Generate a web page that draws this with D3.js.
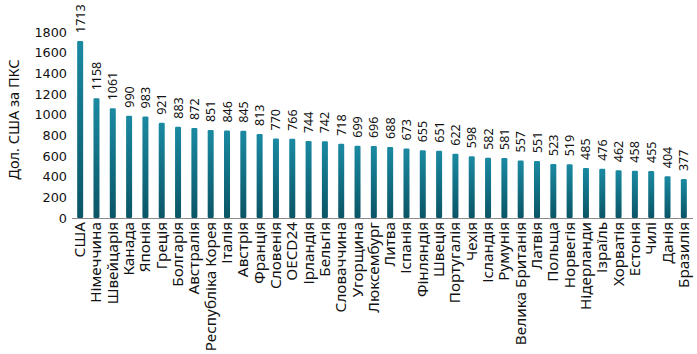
<!DOCTYPE html>
<html>
<head>
<meta charset="utf-8">
<script src="https://cdn.jsdelivr.net/npm/d3@7"></script>
<style>
body { margin: 0; background: #fff; }
text { fill: #111; }
</style>
</head>
<body>
<div id="chart"></div>
<script>
var categories = ["США", "Німеччина", "Швейцарія", "Канада", "Японія", "Греція", "Болгарія", "Австралія",
	"Республіка Корея", "Італія", "Австрія", "Франція", "Словенія", "OECD24", "Ірландія", "Бельгія",
	"Словаччина", "Угорщина", "Люксембург", "Литва", "Іспанія", "Фінляндія", "Швеція", "Португалія",
	"Чехія", "Ісландія", "Румунія", "Велика Британія", "Латвія", "Польща", "Норвегія", "Нідерланди",
	"Ізраїль", "Хорватія", "Естонія", "Чилі", "Данія", "Бразилія"];
var values = [1713, 1158, 1061, 990, 983, 921, 883, 872, 851, 846, 845, 813, 770, 766, 744, 742,
	718, 699, 696, 688, 673, 655, 651, 622, 598, 582, 581, 557, 551, 523, 519, 485,
	476, 462, 458, 455, 404, 377];
var yTicks = [0, 200, 400, 600, 800, 1000, 1200, 1400, 1600, 1800];
var yTitle = "Дол. США за ПКС";

var w = 697, h = 354;
var data = categories.map(function(c, i) { return {name: c, value: values[i]}; });

var svg = d3.select("#chart").append("svg")
	.attr("width", w)
	.attr("height", h);

var defs = svg.append("defs");
var grad = defs.append("linearGradient")
	.attr("id", "barGrad")
	.attr("x1", 0).attr("y1", 0).attr("x2", 0).attr("y2", 1);
grad.append("stop").attr("offset", "0%").attr("stop-color", "#1a8aa2");
grad.append("stop").attr("offset", "100%").attr("stop-color", "#0a5566");

var x = d3.scaleBand().domain(categories).range([72, 692]).padding(0);
var y = d3.scaleLinear().domain([0, 1800]).range([218, 32]);
var barW = 6;

// bars
svg.selectAll(".bar")
	.data(data).enter()
	.append("rect")
	.attr("class", "bar")
	.attr("x", function(d) { return x(d.name) + x.bandwidth() / 2 - barW / 2; })
	.attr("y", function(d) { return y(d.value); })
	.attr("width", barW)
	.attr("height", function(d) { return y(0) - y(d.value); })
	.attr("rx", 1.2)
	.attr("fill", "url(#barGrad)");

// baseline
svg.append("line")
	.attr("x1", 72).attr("x2", 693)
	.attr("y1", y(0) + 0.5).attr("y2", y(0) + 0.5)
	.attr("stroke", "#8a8a8a")
	.attr("stroke-width", 1);

// y axis labels (no line, no ticks)
var yAxis = d3.axisLeft(y).tickValues(yTicks).tickSize(0).tickPadding(0).tickFormat(d3.format("d"));
var gy = svg.append("g")
	.attr("transform", "translate(67,0)")
	.call(yAxis);
gy.select(".domain").remove();
gy.selectAll("text")
	.style("font-family", "'DejaVu Sans', sans-serif")
	.style("font-size", "12.8px")
	.style("fill", "#111");

// value labels
svg.selectAll(".val")
	.data(data).enter()
	.append("text")
	.attr("class", "val")
	.attr("transform", function(d) {
		return "translate(" + (x(d.name) + x.bandwidth() / 2) + "," + (y(d.value) - 8) + ") rotate(-90)";
	})
	.attr("dy", "0.36em")
	.style("font-family", "'Noto Sans', sans-serif")
	.style("font-size", "12.5px")
	.text(function(d) { return d.value; });

// category labels
svg.selectAll(".cat")
	.data(data).enter()
	.append("text")
	.attr("class", "cat")
	.attr("transform", function(d) {
		return "translate(" + (x(d.name) + x.bandwidth() / 2 - 0.5) + "," + (y(0) + 4) + ") rotate(-90)";
	})
	.attr("dy", "0.36em")
	.attr("text-anchor", "end")
	.style("font-family", "'Noto Sans', sans-serif")
	.style("font-size", "15.3px")
	.text(function(d) { return d.name; });

// y title
svg.append("text")
	.attr("transform", "translate(14," + ((52 + 187) / 2) + ") rotate(-90)")
	.attr("text-anchor", "middle")
	.attr("dy", "0.36em")
	.style("font-family", "'Noto Sans', sans-serif")
	.style("font-size", "14.5px")
	.text(yTitle);
</script>
</body>
</html>
